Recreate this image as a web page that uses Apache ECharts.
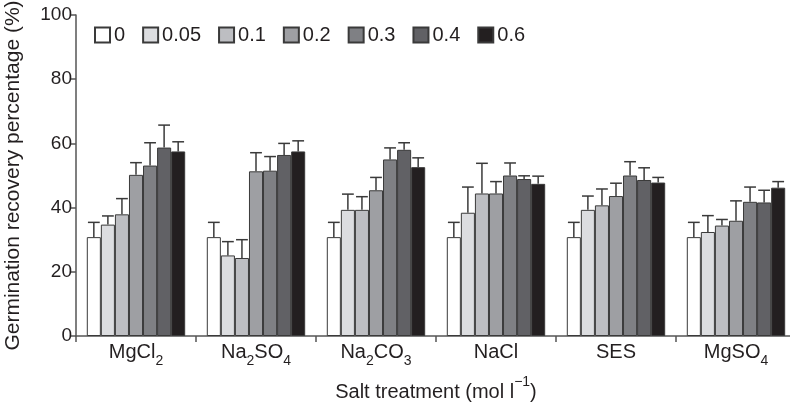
<!DOCTYPE html>
<html>
<head>
<meta charset="utf-8">
<script src="https://cdn.jsdelivr.net/npm/echarts@6/dist/echarts.min.js"></script>
<style>
  html, body { margin: 0; padding: 0; background: #fff; }
  #chart { width: 790px; height: 407px; }
</style>
</head>
<body>
<div id="chart"></div>
<script>
// Salt treatments on the category axis (rich-text keys carry the subscripts)
const salts = ['MgCl2', 'Na2SO4', 'Na2CO3', 'NaCl', 'SES', 'MgSO4'];
const saltLabels = [
  '{t|MgCl}{s|2}',
  '{t|Na}{s|2}{t|SO}{s|4}',
  '{t|Na}{s|2}{t|CO}{s|3}',
  '{t|NaCl}',
  '{t|SES}',
  '{t|MgSO}{s|4}'
];

// Concentrations (mol l-1), one bar series each
const levels = ['0', '0.05', '0.1', '0.2', '0.3', '0.4', '0.6'];
const levelColors = ['#ffffff', '#dcdde0', '#bdbec2', '#9e9fa3', '#7f8084', '#616165', '#231f20'];

// Mean germination recovery (%) per concentration, in salt order
const mean0    = [30.8, 30.8, 30.8, 30.8, 30.8, 30.8];
const mean005  = [34.7, 25.1, 39.3, 38.4, 39.3, 32.4];
const mean01   = [37.9, 24.3, 39.3, 44.4, 40.7, 34.4];
const mean02   = [50.2, 51.3, 45.4, 44.4, 43.6, 35.9];
const mean03   = [53.1, 51.5, 55.0, 50.0, 50.0, 41.8];
const mean04   = [58.7, 56.4, 58.0, 48.9, 48.6, 41.6];
const mean06   = [57.5, 57.5, 52.6, 47.4, 47.8, 46.2];

// Upper end of the error bar (mean + SD)
const upper0   = [35.4, 35.4, 35.4, 35.4, 35.4, 35.4];
const upper005 = [37.4, 29.4, 44.2, 46.4, 43.6, 37.5];
const upper01  = [42.8, 30.0, 43.4, 53.8, 45.8, 36.3];
const upper02  = [54.0, 57.1, 49.4, 48.1, 47.6, 42.1];
const upper03  = [60.2, 55.9, 58.6, 53.9, 54.3, 46.4];
const upper04  = [65.7, 60.0, 60.2, 49.9, 52.4, 45.4];
const upper06  = [60.5, 60.8, 55.5, 49.8, 49.4, 48.1];

const yTicks = [0, 20, 40, 60, 80, 100];

const means = [mean0, mean005, mean01, mean02, mean03, mean04, mean06];
const uppers = [upper0, upper005, upper01, upper02, upper03, upper04, upper06];

const CATEGORY_GAP = 0.18;
const FONT = 'Liberation Sans, Arial, sans-serif';
const INK = '#231f20';
const EDGE = '#3a3a3a';
const AXIS = '#555555';

const series = [];
levels.forEach((lv, i) => {
  series.push({
    name: lv,
    type: 'bar',
    data: means[i],
    barGap: '0%',
    barCategoryGap: (CATEGORY_GAP * 100) + '%',
    itemStyle: { color: levelColors[i], borderColor: EDGE, borderWidth: 1 },
    emphasis: { disabled: true },
    z: 2
  });
});

// Whiskers drawn on top of the bars, one custom series per concentration
levels.forEach((lv, i) => {
  series.push({
    name: 'sd ' + lv,
    type: 'custom',
    data: means[i].map((m, k) => [k, m, uppers[i][k]]),
    z: 3,
    silent: true,
    renderItem: function (params, api) {
      const band = api.size([1, 0])[0];
      const bw = band * (1 - CATEGORY_GAP) / levels.length;
      const base = api.coord([api.value(0), api.value(1)]);
      const top = api.coord([api.value(0), api.value(2)]);
      const x = base[0] + (i - (levels.length - 1) / 2) * bw;
      const half = bw * 0.42;
      const style = { stroke: EDGE, lineWidth: 1.5, fill: null };
      return {
        type: 'group',
        children: [
          { type: 'line', shape: { x1: x, y1: base[1], x2: x, y2: top[1] }, style: style },
          { type: 'line', shape: { x1: x - half, y1: top[1], x2: x + half, y2: top[1] }, style: style }
        ]
      };
    }
  });
});

const chart = echarts.init(document.getElementById('chart'), null, { renderer: 'canvas' });
chart.setOption({
  animation: false,
  backgroundColor: '#ffffff',
  textStyle: { fontFamily: FONT, color: INK },
  grid: { left: 76, right: -6, top: 15, bottom: 71, containLabel: false, outerBoundsMode: 'none' },
  legend: {
    data: levels,
    left: 94,
    top: 25,
    padding: 0,
    icon: 'rect',
    itemWidth: 15,
    itemHeight: 15,
    itemGap: 17,
    textStyle: { fontFamily: FONT, fontSize: 20, color: INK, padding: [0, 0, 0, -1] },
    selectedMode: false
  },
  xAxis: {
    type: 'category',
    data: salts,
    name: '{t|Salt treatment (mol l}{u|\u22121}{t|)}',
    nameLocation: 'middle',
    nameGap: 39,
    nameTextStyle: {
      rich: {
        t: { fontFamily: FONT, fontSize: 20, color: INK, lineHeight: 22, padding: [7, 0, 0, 0], verticalAlign: 'top' },
        u: { fontFamily: FONT, fontSize: 14, color: INK, lineHeight: 14, verticalAlign: 'top' }
      }
    },
    axisLine: { lineStyle: { color: AXIS, width: 1.5 } },
    axisTick: { show: true, alignWithLabel: false, length: 6, lineStyle: { color: AXIS, width: 1.5 } },
    axisLabel: {
      interval: 0,
      margin: 6,
      formatter: function (v, idx) { return saltLabels[idx]; },
      rich: {
        t: { fontFamily: FONT, fontSize: 20, color: INK, lineHeight: 22, verticalAlign: 'top' },
        s: { fontFamily: FONT, fontSize: 14, color: INK, lineHeight: 14, padding: [12, 0, 0, 0], verticalAlign: 'top' }
      }
    },
    splitLine: { show: false }
  },
  yAxis: {
    type: 'value',
    min: yTicks[0],
    max: yTicks[yTicks.length - 1],
    interval: yTicks[1] - yTicks[0],
    name: 'Germination recovery percentage (%)',
    nameLocation: 'middle',
    nameGap: 52,
    nameTextStyle: { fontFamily: FONT, fontSize: 21, color: INK },
    axisLine: { show: true, lineStyle: { color: AXIS, width: 1.5 } },
    axisTick: { show: true, length: 6, lineStyle: { color: AXIS, width: 1.5 } },
    axisLabel: { fontFamily: FONT, fontSize: 19, color: INK, margin: 4 },
    splitLine: { show: false }
  },
  series: series
});
</script>
</body>
</html>
